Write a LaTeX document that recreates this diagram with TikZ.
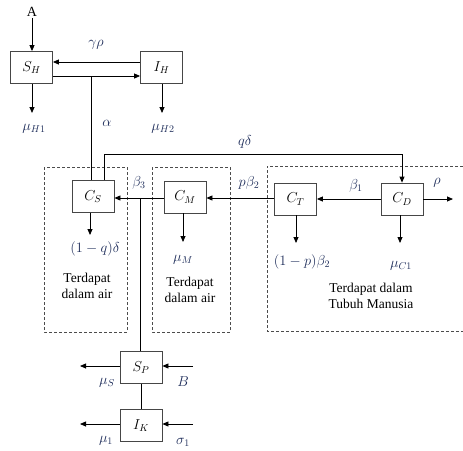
\documentclass[tikz,border=0pt]{standalone}
\usepackage{fontspec}
\setmainfont{Liberation Serif}
\usetikzlibrary{arrows.meta}
\definecolor{lbl}{RGB}{30,45,90}
\definecolor{boxline}{RGB}{70,70,70}
\begin{document}
\begin{tikzpicture}[x=1pt,y=-1pt,
  every node/.style={font=\fontsize{14}{16}\selectfont},
  box/.style={draw=boxline, line width=0.8pt, minimum width=42pt, minimum height=32pt, inner sep=0pt, fill=white},
  arr/.style={line width=0.8pt, -{Triangle[length=6pt,width=5pt]}},
  ln/.style={line width=0.8pt},
  dbox/.style={draw=black!70, line width=0.8pt, dash pattern=on 3pt off 2pt},
  lab/.style={text=lbl, inner sep=1pt},
  txt/.style={align=center, inner sep=0pt, font=\fontsize{13.5}{16}\selectfont}]
\useasboundingbox (0,0) rectangle (463,450);

% dashed regions
\draw[dbox] (44,167) rectangle (127,332);
\draw[dbox] (152,167) rectangle (230,332);
\draw[dbox] (463,166) -- (267,166) -- (267,331) -- (463,331);

% boxes
\node[box] (SH) at (31.5,67.5) {$S_H$};
\node[box] (IH) at (161.5,67.5) {$I_H$};
\node[box] (CS) at (93,196.5) {$C_S$};
\node[box] (CM) at (185,197) {$C_M$};
\node[box] (CT) at (295.5,199) {$C_T$};
\node[box] (CD) at (402,199) {$C_D$};
\node[box] (SP) at (141,367.5) {$S_P$};
\node[box] (IK) at (141,425.5) {$I_K$};

% coordinates
\node[inner sep=1pt] (A) at (32,12) {A};
\coordinate (a1) at (91,76);
\coordinate (q1) at (104,154);
\coordinate (b3) at (140,198);
\coordinate (rhoend) at (453,199);
\coordinate (mh1) at (32,113);
\coordinate (mh2) at (162,113);
\coordinate (csd) at (90,235);
\coordinate (cmd) at (183,242);
\coordinate (ctd) at (296,243);
\coordinate (cdd) at (400,243);
\coordinate (spl) at (80,366);
\coordinate (spr) at (193,366);
\coordinate (ikl) at (80,424);
\coordinate (ikr) at (193,424);

% human part
\draw[arr] (A) -- (A |- SH.north);
\draw[arr] (IH.west |- 0,62) -- (SH.east |- 0,62);
\draw[arr] (SH.east |- 0,76) -- (IH.west |- 0,76);
\draw[ln] (a1) -- (a1 |- CS.north);
\draw[arr] (SH.south -| mh1) -- (mh1);
\draw[arr] (IH.south -| mh2) -- (mh2);

% q delta line
\draw[arr] (CS.north -| q1) |- (q1 -| CD.north) -- (CD.north);

% chain
\draw[arr] (CD.west) -- (CT.east);
\draw[arr] (CT.west |- 0,198) -- (CM.east |- 0,198);
\draw[arr] (CM.west |- 0,198) -- (CS.east |- 0,198);
\draw[arr] (CD.east) -- (rhoend);
\draw[ln] (b3) -- (b3 |- SP.north);

% downward arrows
\draw[arr] (CS.south -| csd) -- (csd);
\draw[arr] (CM.south -| cmd) -- (cmd);
\draw[arr] (CT.south -| ctd) -- (ctd);
\draw[arr] (CD.south -| cdd) -- (cdd);

% bottom
\draw[ln] (SP.south) -- (IK.north);
\draw[arr] (SP.west |- spl) -- (spl);
\draw[arr] (spr) -- (SP.east |- spr);
\draw[arr] (IK.west |- ikl) -- (ikl);
\draw[arr] (ikr) -- (IK.east |- ikr);

% labels
\node[lab] (lgr) at (96,45) {$\gamma\rho$};
\node[lab] (lmh1) at (34,129) {$\mu_{H1}$};
\node[lab] (lal) at (107,123) {$\alpha$};
\node[lab] (lmh2) at (163,129) {$\mu_{H2}$};
\node[lab] (lqd) at (245,142) {$q\delta$};
\node[lab] (lb3) at (139,183) {$\beta_3$};
\node[lab] (lpb) at (249,183) {$p\beta_2$};
\node[lab] (lb1) at (356,186) {$\beta_1$};
\node[lab] (lrho) at (437,183) {$\rho$};
\node[lab] (l1q) at (95,249) {$(1-q)\delta$};
\node[lab] (lmm) at (183,260) {$\mu_M$};
\node[lab] (l1p) at (302,262) {$(1-p)\beta_2$};
\node[lab] (lmc) at (401,266) {$\mu_{C1}$};
\node[lab] (lms) at (107,383) {$\mu_S$};
\node[lab] (lB) at (183,382) {$B$};
\node[lab] (lm1) at (106,441) {$\mu_1$};
\node[lab] (ls1) at (183,442) {$\sigma_1$};

\node[txt] (t1) at (87,286) {Terdapat\\dalam air};
\node[txt] (t2) at (190,290) {Terdapat\\dalam air};
\node[txt] (t3) at (371,296) {Terdapat dalam\\Tubuh Manusia};
\end{tikzpicture}
\end{document}
